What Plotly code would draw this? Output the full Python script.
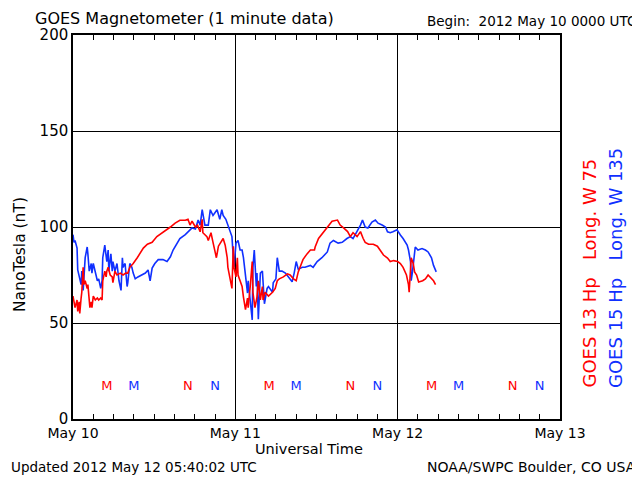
import plotly.graph_objects as go

# ---- data (hours since 2012 May 10 00:00 UT, nT) ----
g13_hours = [0.0, 0.3, 0.6, 0.7, 0.9, 1.0, 1.2, 1.3, 1.5, 1.6, 1.8, 2.1, 2.2, 2.4, 2.5, 2.7, 2.8, 3.0,
             3.3, 3.6, 3.8, 4.1, 4.3, 4.4, 4.6, 4.7, 4.9, 5.0, 5.2, 5.5, 5.8, 5.9, 6.2, 6.5, 7.0, 7.4,
             7.8, 8.1, 8.4, 8.9, 9.5, 9.9, 10.4, 11.0, 11.7, 12.4, 13.2, 13.9, 14.4, 15.1, 15.8, 16.6,
             17.0, 17.3, 17.6, 18.1, 18.4, 18.8, 19.1, 19.2, 19.5, 19.8, 20.0, 20.4, 20.7, 21.2, 21.5,
             21.9, 22.2, 22.5, 22.8, 22.9, 23.2, 23.5, 23.7, 23.8, 24.1, 24.3, 24.4, 24.7, 25.0, 25.2,
             25.5, 25.8, 25.9, 26.2, 26.5, 26.6, 26.9, 27.2, 27.4, 27.7, 28.0, 28.1, 28.4, 28.9, 29.5,
             29.9, 30.2, 30.5, 31.1, 31.7, 32.1, 32.6, 33.0, 33.3, 33.6, 34.0, 34.6, 35.1, 35.7, 35.8,
             36.3, 37.0, 37.7, 38.3, 39.1, 39.5, 40.0, 40.6, 41.0, 41.4, 42.0, 42.5, 42.9, 43.2, 43.7,
             44.4, 45.0, 45.4, 45.9, 46.5, 46.9, 47.4, 48.0, 48.4, 48.8, 49.3, 49.6, 49.7, 50.0, 50.3,
             50.5, 50.8, 51.1, 51.7, 52.1, 52.5, 53.0, 53.3, 53.6]
g13_values = [64, 58, 62, 56, 61, 55, 63, 66, 79, 70, 72, 68, 70, 61, 58, 61, 58, 64,
              62, 63, 62, 63, 62, 72, 75, 77, 74, 77, 79, 75, 74, 71, 77, 75, 76, 75,
              76, 76, 79, 81, 84, 86.5, 89, 91, 92, 95, 97, 98.5, 100, 102, 103.5, 103.5,
              104, 101, 103, 100, 101, 97.5, 104, 97, 96, 95, 93, 97, 92, 84, 90,
              92, 94, 90.5, 84, 79, 74, 68, 90, 79, 74, 84, 75, 72, 69, 63.5,
              57, 63, 58, 69, 82, 66, 58, 63.5, 72, 62, 69, 62, 66, 64, 66,
              68, 72, 73, 74, 75.6, 75, 73, 72, 76.6, 79, 83, 86, 88, 88, 89.6,
              94, 97, 100, 103, 103.6, 101, 99.5, 97.6, 95, 97, 95, 97.6, 94, 92, 91,
              91, 90, 88, 85.4, 83.8, 82, 82.5, 82, 81, 79, 75, 70, 66, 84, 81,
              76.6, 75, 71.4, 72, 73, 75, 73, 72, 70]

g15_hours = [0.0, 0.15, 0.3, 0.6, 0.7, 0.9, 1.2, 1.3, 1.5, 1.8, 2.1, 2.2, 2.4, 2.7, 2.8, 3.0, 3.3,
             3.6, 3.8, 4.1, 4.3, 4.4, 4.7, 5.0, 5.2, 5.3, 5.6, 5.8, 5.9, 6.2, 6.5, 6.8, 7.1, 7.3,
             7.4, 7.7, 8.0, 8.1, 8.4, 8.7, 8.9, 9.2, 9.6, 10.2, 10.7, 11.1, 11.4, 11.7, 12.1, 12.6,
             13.3, 13.9, 14.4, 14.8, 15.4, 15.8, 16.6, 17.0, 17.6, 18.1, 18.5, 18.8, 19.1, 19.5,
             20.0, 20.3, 20.7, 21.3, 21.7, 22.0, 22.2, 22.6, 22.9, 23.2, 23.5, 23.7, 23.8, 24.1,
             24.4, 24.7, 25.0, 25.2, 25.5, 25.8, 25.9, 26.2, 26.5, 26.6, 26.8, 27.1, 27.2, 27.4,
             27.7, 28.0, 28.3, 28.7, 28.9, 29.5, 29.6, 30.0, 30.2, 30.5, 30.9, 31.4, 31.8, 32.4,
             32.7, 33.0, 33.3, 33.9, 34.3, 35.1, 35.5, 36.1, 36.8, 37.6, 38.0, 38.5, 39.2, 39.8,
             40.5, 41.0, 41.4, 42.0, 42.5, 42.8, 43.2, 43.6, 44.2, 44.7, 45.1, 45.7, 46.2, 46.5,
             46.9, 47.3, 47.9, 48.4, 48.8, 49.4, 49.6, 49.9, 50.0, 50.2, 50.5, 50.6, 51.0, 51.6,
             52.1, 52.5, 53.0, 53.3, 53.7]
g15_values = [96, 92, 93, 89, 77.6, 75, 70, 77, 67, 84, 89.6, 86, 77, 81, 76, 81, 77,
              72, 73, 68, 72, 84, 90.6, 82, 88, 77, 86, 77, 82, 77, 81, 72, 67, 84,
              79, 81, 69, 71, 81, 79, 76, 73, 74, 75, 76, 77.6, 72, 78.6, 81, 83,
              83, 82, 84.5, 88, 91.6, 94, 96, 97.5, 99.5, 99, 103.6, 101, 109, 101,
              101, 109, 106, 109, 104, 109, 106, 104, 101, 98.5, 95, 84, 79, 91.6,
              93, 88, 88, 84, 74, 65.6, 72, 62, 51.6, 79, 88, 69, 76, 52,
              76, 77, 60, 68, 69, 66, 71, 73, 84, 77, 77, 76, 74, 71.5,
              76, 82, 78, 79, 79, 80, 79, 82, 84, 87, 91.6, 93, 91.6, 92,
              94, 95, 94, 97.5, 101, 103.6, 100, 99.5, 102.6, 103.6, 102, 101, 100, 97.5,
              97, 97.5, 98.5, 95.8, 94, 90.6, 88, 82, 72, 77, 88, 89.6, 88, 88.8,
              88, 87, 84, 80, 76.6]

day_ticks = [0, 24, 48, 72]
day_labels = ["May 10", "May 11", "May 12", "May 13"]

# local midnight (M) and noon (N) marker times, hours
g13_m_hours = [5, 29, 53]
g15_m_hours = [9, 33, 57]
g13_n_hours = [17, 41, 65]
g15_n_hours = [21, 45, 69]
marker_level = 17

RED = "#ff0000"
BLUE = "#1030ff"
FONT = "DejaVu Sans"

fig = go.Figure()
fig.add_trace(go.Scatter(x=g15_hours, y=g15_values, mode="lines",
                         line=dict(color=BLUE, width=1.6), hoverinfo="skip"))
fig.add_trace(go.Scatter(x=g13_hours, y=g13_values, mode="lines",
                         line=dict(color=RED, width=1.6), hoverinfo="skip"))

for hrs, txt, col in [(g13_m_hours, "M", RED), (g15_m_hours, "M", BLUE),
                      (g13_n_hours, "N", RED), (g15_n_hours, "N", BLUE)]:
    fig.add_trace(go.Scatter(x=hrs, y=[marker_level] * len(hrs), mode="text",
                             text=[txt] * len(hrs), textposition="middle center",
                             textfont=dict(color=col, size=13, family=FONT),
                             hoverinfo="skip"))

# page has an 8px body margin; plot area in page pixels: x 73..560, y 35..419
OFF = 8
W, H = 640, 480
L, R, T, B = 73 - OFF, 80 + OFF, 35 - OFF, 61 + OFF
pw, ph = W - L - R, H - T - B
PL, PB = 73, 419


def px(x):
    return (x - PL) / pw


def py(y):
    return (PB - y) / ph


nb = "\u00a0"
ann = [
    dict(text="GOES Magnetometer (1 minute data)", x=px(33), y=py(18), xanchor="left",
         yanchor="middle", font=dict(size=16)),
    dict(text="Begin:" + nb * 2 + "2012 May 10 0000 UTC", x=px(638), y=py(21), xanchor="right",
         yanchor="middle", font=dict(size=13.5)),
    dict(text="Universal Time", x=px(309), y=py(449), xanchor="center", yanchor="middle",
         font=dict(size=14.5)),
    dict(text="Updated 2012 May 12 05:40:02 UTC", x=px(9), y=py(467), xanchor="left",
         yanchor="middle", font=dict(size=13.5)),
    dict(text="NOAA/SWPC Boulder, CO USA", x=px(638), y=py(467), xanchor="right",
         yanchor="middle", font=dict(size=14)),
    dict(text="NanoTesla (nT)", x=px(20), y=py(255), xanchor="center", yanchor="middle",
         textangle=-90, font=dict(size=15.5)),
    dict(text="GOES 13 Hp" + nb * 3 + "Long. W 75", x=px(589), y=py(390), xanchor="center",
         yanchor="bottom", textangle=-90, font=dict(size=18, color=RED)),
    dict(text="GOES 15 Hp" + nb * 3 + "Long. W 135", x=px(615), y=py(390), xanchor="center",
         yanchor="bottom", textangle=-90, font=dict(size=18, color=BLUE)),
]
for a in ann:
    a.update(xref="paper", yref="paper", showarrow=False)
    a["font"].setdefault("color", "black")
    a["font"]["family"] = FONT

fig.update_layout(
    width=W, height=H, margin=dict(l=L, r=R, t=T, b=B, pad=0),
    paper_bgcolor="white", plot_bgcolor="white", showlegend=False,
    font=dict(family=FONT, size=14, color="black"),
    annotations=ann,
)
fig.update_xaxes(range=[0, 72], tickvals=day_ticks, ticktext=day_labels,
                 showgrid=True, gridcolor="black", gridwidth=1.3,
                 showline=True, linecolor="black", linewidth=1.5, mirror="ticks",
                 ticks="inside", ticklen=5, tickcolor="black",
                 minor=dict(dtick=3, ticks="inside", ticklen=5, tickcolor="black", showgrid=False),
                 zeroline=False, tickfont=dict(size=14))
fig.update_yaxes(range=[0, 200], tickvals=[0, 50, 100, 150, 200],
                 showgrid=True, gridcolor="black", gridwidth=1.3,
                 showline=True, linecolor="black", linewidth=1.5, mirror=True,
                 ticks="", zeroline=False, tickfont=dict(size=15))

fig.write_html("out.html")
